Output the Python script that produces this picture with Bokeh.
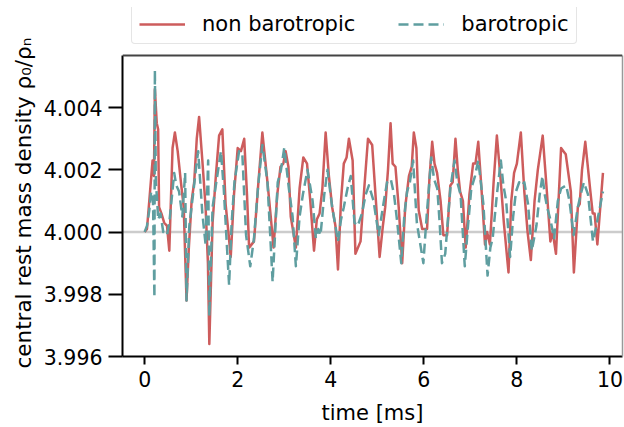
from bokeh.plotting import figure
from bokeh.models import (Range1d, Span, Legend, LegendItem, FixedTicker, NumeralTickFormatter,
                          LinearAxis, Title)
from bokeh.embed import file_html
from bokeh.resources import INLINE

# time [ms]
red_t = [0.00, 0.05, 0.10, 0.17, 0.20, 0.22, 0.26, 0.29, 0.31, 0.36, 0.42, 0.48, 0.53, 0.60, 0.65, 0.71,
         0.78, 0.84, 0.90, 0.95, 1.01, 1.065, 1.12, 1.17, 1.24, 1.31, 1.36, 1.39, 1.46, 1.53, 1.60, 1.67,
         1.74, 1.80, 1.85, 1.92, 2.00, 2.07, 2.14, 2.20, 2.245, 2.35, 2.44, 2.53, 2.64, 2.71, 2.77, 2.85,
         2.92, 2.98, 3.03, 3.09, 3.14, 3.25, 3.33, 3.41, 3.49, 3.56, 3.64, 3.70, 3.76, 3.82, 3.89, 3.96,
         4.03, 4.10, 4.155, 4.22, 4.28, 4.34, 4.39, 4.47, 4.53, 4.64, 4.72, 4.80, 4.89, 4.97, 5.05, 5.12,
         5.17, 5.23, 5.285, 5.33, 5.39, 5.46, 5.535, 5.60, 5.68, 5.74, 5.785, 5.84, 5.89, 5.965, 6.07, 6.12,
         6.18, 6.23, 6.285, 6.36, 6.42, 6.50, 6.57, 6.62, 6.68, 6.73, 6.78, 6.84, 6.90, 6.98, 7.06, 7.11,
         7.17, 7.23, 7.315, 7.36, 7.42, 7.50, 7.57, 7.65, 7.72, 7.82, 7.88, 7.94, 8.00, 8.085, 8.16, 8.23,
         8.30, 8.38, 8.45, 8.555, 8.63, 8.72, 8.77, 8.84, 8.95, 9.00, 9.05, 9.16, 9.225, 9.31, 9.35, 9.40,
         9.47, 9.58, 9.63, 9.67, 9.73, 9.85]
red_v = [4.0000, 4.0001, 4.0010, 4.0023, 4.0018, 4.0046, 4.0035, 4.0033, 4.0008, 4.0006, 4.0003, 4.0002,
         3.9994, 4.0027, 4.0032, 4.0026, 4.0016, 4.0008, 3.9978, 3.9995, 4.0010, 4.0016, 4.0030, 4.0037,
         4.0023, 4.0008, 3.9990, 3.9964, 4.0003, 4.0018, 4.0031, 4.0033, 4.0009, 4.0000, 3.9992, 4.0012,
         4.0027, 4.0026, 4.0030, 4.0012, 3.9995, 3.9997, 4.0015, 4.0032, 4.0016, 4.0005, 3.9995, 4.0012,
         4.0021, 4.0022, 4.0026, 4.0021, 4.0005, 3.9995, 4.0014, 4.0024, 4.0022, 4.0010, 3.9994, 4.0004,
         4.0006, 4.0014, 4.0032, 4.0018, 4.0008, 4.0002, 3.9988, 4.0010, 4.0022, 4.0024, 4.0030, 4.0023,
         3.9993, 3.9997, 4.0014, 4.0030, 4.0028, 4.0010, 3.9992, 4.0002, 4.0008, 4.0020, 4.0035, 4.0022,
         4.0021, 4.0008, 3.9990, 4.0008, 4.0018, 4.0021, 4.0032, 4.0027, 4.0007, 4.0001, 4.0001, 4.0017,
         4.0029, 4.0022, 4.0019, 4.0010, 3.9999, 3.9999, 4.0015, 4.0016, 4.0030, 4.0020, 4.0013, 4.0010,
         3.9995, 4.0012, 4.0022, 4.0022, 4.0029, 4.0016, 3.9996, 4.0000, 3.9996, 4.0016, 4.0031, 4.0017,
         4.0003, 3.9987, 4.0010, 4.0019, 4.0022, 4.0032, 4.0013, 4.0000, 3.9991, 4.0010, 4.0020, 4.0031,
         4.0016, 3.9997, 4.0000, 3.9993, 4.0027, 4.0026, 4.0025, 4.0013, 3.9987, 4.0008, 4.0009, 4.0020,
         4.0029, 4.0013, 4.0006, 4.0006, 3.9996, 4.0019]

teal_t = [0.00, 0.05, 0.10, 0.14, 0.18, 0.21, 0.22, 0.24, 0.27, 0.29, 0.34, 0.40, 0.48, 0.53, 0.59, 0.635,
          0.68, 0.74, 0.81, 0.87, 0.90, 0.96, 1.04, 1.10, 1.15, 1.24, 1.31, 1.365, 1.39, 1.46, 1.57, 1.64,
          1.70, 1.77, 1.815, 1.87, 1.93, 2.03, 2.10, 2.18, 2.27, 2.35, 2.44, 2.53, 2.64, 2.75, 2.86, 2.93,
          3.00, 3.10, 3.18, 3.25, 3.33, 3.40, 3.50, 3.61, 3.68, 3.73, 3.78, 3.86, 3.93, 4.03, 4.10, 4.155,
          4.22, 4.28, 4.36, 4.43, 4.51, 4.58, 4.67, 4.75, 4.82, 4.92, 5.03, 5.12, 5.21, 5.29, 5.36, 5.43,
          5.515, 5.58, 5.64, 5.70, 5.77, 5.85, 5.99, 6.06, 6.16, 6.22, 6.29, 6.34, 6.39, 6.46, 6.57, 6.66,
          6.72, 6.79, 6.88, 6.95, 7.02, 7.10, 7.17, 7.28, 7.37, 7.43, 7.48, 7.57, 7.655, 7.71, 7.77, 7.855,
          7.92, 7.98, 8.05, 8.10, 8.16, 8.24, 8.32, 8.42, 8.49, 8.55, 8.60, 8.65, 8.72, 8.80, 8.88, 8.95,
          9.06, 9.13, 9.22, 9.31, 9.37, 9.44, 9.53, 9.635, 9.68, 9.72, 9.85]
teal_v = [4.0000, 4.0002, 4.0007, 4.0013, 4.0010, 3.9979, 4.0052, 4.0016, 4.0010, 4.0004, 4.0006, 4.0000,
          3.9999, 4.0003, 4.0012, 4.0019, 4.0015, 4.0013, 4.0005, 4.0019, 3.9978, 4.0002, 4.0012, 4.0020,
          4.0026, 4.0006, 3.9996, 4.0023, 3.9973, 4.0008, 4.0019, 4.0026, 4.0014, 3.9995, 3.9983, 4.0003,
          4.0016, 4.0026, 4.0025, 3.9999, 3.9989, 3.9998, 4.0015, 4.0028, 4.0016, 3.9984, 4.0016, 4.0020,
          4.0027, 4.0014, 4.0005, 3.9989, 4.0005, 4.0012, 4.0020, 4.0010, 3.9998, 4.0001, 3.9999, 4.0012,
          4.0020, 4.0008, 4.0002, 3.9997, 4.0004, 4.0008, 4.0014, 4.0018, 4.0003, 4.0002, 4.0006, 4.0012,
          4.0015, 4.0010, 3.9999, 4.0008, 4.0016, 4.0017, 4.0012, 4.0003, 3.9990, 4.0005, 4.0013, 4.0016,
          4.0023, 4.0003, 3.9990, 4.0005, 4.0024, 4.0017, 4.0014, 4.0003, 3.9990, 3.9993, 4.0014, 4.0023,
          4.0016, 4.0012, 3.9989, 4.0002, 4.0014, 4.0018, 4.0023, 4.0009, 3.9986, 3.9995, 3.9998, 4.0012,
          4.0023, 4.0015, 4.0010, 3.9992, 4.0005, 4.0013, 4.0016, 4.0015, 4.0016, 4.0009, 3.9994, 4.0002,
          4.0012, 4.0018, 4.0012, 4.0008, 4.0004, 3.9998, 4.0010, 4.0014, 4.0015, 4.0010, 3.9999, 4.0008,
          4.0012, 4.0016, 4.0012, 3.9997, 4.0000, 4.0003, 4.0013]

x_ticks = [0, 2, 4, 6, 8, 10]
y_ticks = [3.996, 3.998, 4.000, 4.002, 4.004]
ref_level = 4.000
labels = ["non barotropic", "barotropic"]

X_LO, X_HI = -0.476, 10.27
Y_LO, Y_HI = 3.996, 4.005679      # axes box
Y_TOP = 4.007218                  # extra headroom that holds the legend

FONT = "DejaVu Sans"
FS_TICK = "20.5px"
FS = "21px"
RED = "#cd5c5c"
TEAL = "#5f9ea0"
DASH = "10 5"

p = figure(width=624, height=427, output_backend="svg", toolbar_location=None,
           x_range=Range1d(X_LO, X_HI), y_range=Range1d(Y_LO, Y_TOP),
           min_border_left=122, min_border_right=2, min_border_top=7, min_border_bottom=70)
p.grid.visible = False
p.background_fill_color = "white"
p.border_fill_color = "white"
p.outline_line_color = None

p.add_layout(Span(location=ref_level, dimension="width", line_color="#cccccc",
                  line_width=2.5, level="underlay"))

r1 = p.line(red_t, red_v, line_color=RED, line_width=2.5, line_join="round")
r2 = p.line(teal_t, teal_v, line_color=TEAL, line_width=2.5, line_dash=DASH, line_join="round")

# top spine of the axes box
p.add_layout(Span(location=Y_HI, dimension="width", line_color="#444444", line_width=2))
# right spine
rax = LinearAxis(bounds=(Y_LO, Y_HI), ticker=FixedTicker(ticks=[]), axis_line_color="#999999",
                 axis_line_width=1.5, major_tick_line_color=None, minor_tick_line_color=None,
                 major_label_text_font_size="0px", major_tick_out=0, major_label_standoff=0)
p.add_layout(rax, "right")

for ax in (p.xaxis[0], p.yaxis[0]):
    ax.axis_line_color = "black"
    ax.axis_line_width = 2
    ax.major_tick_line_color = "black"
    ax.major_tick_line_width = 2
    ax.major_tick_in = 0
    ax.minor_tick_line_color = None
    ax.major_label_text_font = FONT
    ax.major_label_text_font_size = FS_TICK
    ax.major_label_text_color = "black"
    ax.axis_label_text_font = FONT
    ax.axis_label_text_font_size = FS
    ax.axis_label_text_font_style = "normal"
    ax.axis_label_text_color = "black"

p.xaxis[0].major_tick_out = 8
p.yaxis[0].major_tick_out = 14
p.yaxis[0].bounds = (Y_LO, Y_HI)
p.xaxis.ticker = FixedTicker(ticks=x_ticks)
p.yaxis[0].ticker = FixedTicker(ticks=y_ticks)
p.yaxis[0].formatter = NumeralTickFormatter(format="0.000")
p.xaxis.axis_label = "time [ms]"
p.xaxis.major_label_standoff = 6
p.xaxis.axis_label_standoff = 11
p.yaxis[0].major_label_standoff = 6

ylab = Title(text="central rest mass density ρ₀/ρₙ", align="left", offset=-12,
             text_font=FONT, text_font_size="21.5px", text_font_style="normal",
             text_color="black", standoff=10)
p.add_layout(ylab, "left")

legend = Legend(items=[LegendItem(label=labels[0], renderers=[r1]),
                       LegendItem(label=labels[1], renderers=[r2])],
                orientation="horizontal", location=(9, 312))
legend.label_text_font = FONT
legend.label_text_font_size = FS
legend.label_text_color = "black"
legend.glyph_width = 46
legend.glyph_height = 20
legend.label_standoff = 17
legend.spacing = 43
legend.padding = 7
legend.margin = 0
legend.border_line_color = "#cccccc"
legend.border_line_width = 1.5
legend.background_fill_color = "white"
legend.background_fill_alpha = 1.0
if "border_radius" in Legend.properties():
    legend.border_radius = 4
p.add_layout(legend, "center")

open("out.html", "w").write(file_html(p, INLINE))
